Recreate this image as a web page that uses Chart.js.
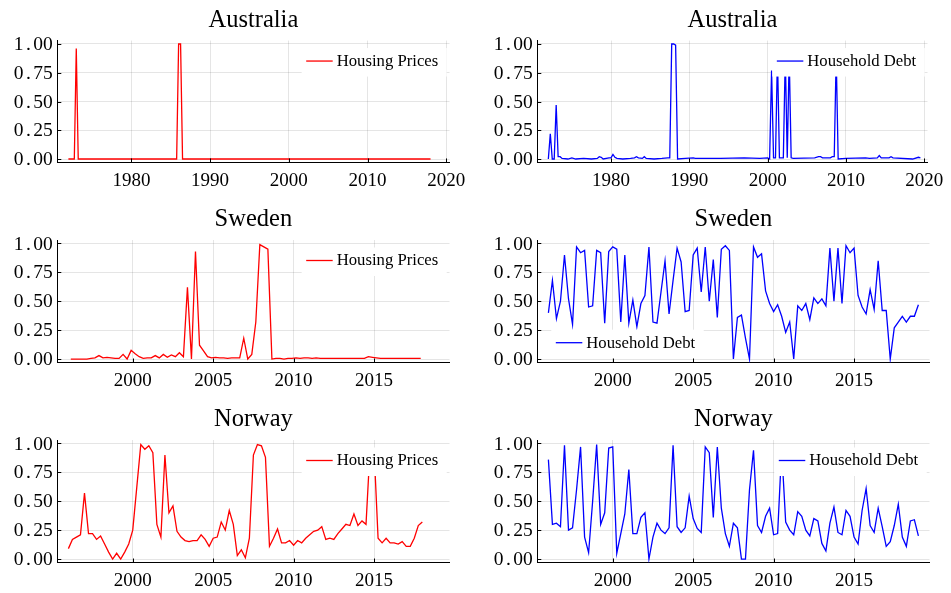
<!DOCTYPE html>
<html>
<head>
<meta charset="utf-8">
<title>Housing prices and household debt</title>
<script src="https://cdn.jsdelivr.net/npm/chart.js@4.4.1/dist/chart.umd.min.js"></script>
<style>
  html, body { margin: 0; padding: 0; background: #fff; overflow: hidden; }
  #wrap { position: relative; width: 951px; height: 593px; }
  #wrap canvas { position: absolute; }
</style>
</head>
<body>
<div id="wrap">
  <canvas id="auHousing" width="475" height="200" style="left:0;top:0"></canvas>
  <canvas id="auDebt" width="476" height="200" style="left:475px;top:0"></canvas>
  <canvas id="seHousing" width="475" height="200" style="left:0;top:200px"></canvas>
  <canvas id="seDebt" width="476" height="200" style="left:475px;top:200px"></canvas>
  <canvas id="noHousing" width="475" height="193" style="left:0;top:400px"></canvas>
  <canvas id="noDebt" width="476" height="193" style="left:475px;top:400px"></canvas>
</div>
<script>
/* values */

const yTicks = [0, 0.25, 0.5, 0.75, 1];
const xTicksLong = [1980, 1990, 2000, 2010, 2020];
const xTicksShort = [2000, 2005, 2010, 2015];

// Australia, flat stretches given only by their end quarters
const auHousingYears = [1972, 1972.75, 1973, 1973.25, 1985.75, 1986, 1986.25, 1986.5, 2018];
const auHousingValues = [0, 0, 0.96, 0, 0, 1, 1, 0, 0];

const auDebtYears = [
  1972, 1972.25, 1972.5, 1972.75, 1973, 1973.25, 1973.5, 1973.75, 1974.5, 1975,
  1975.5, 1976.5, 1977.5, 1978.25, 1978.5, 1978.75, 1979, 1979.75, 1980, 1980.25,
  1980.5, 1980.75, 1981.5, 1982.5, 1983, 1983.25, 1983.5, 1984, 1984.25, 1984.5,
  1985.5, 1986.5, 1987.25, 1987.5, 1987.75, 1988, 1988.25, 1988.5, 1989.5, 1990.5,
  1990.75, 1994, 1997, 1999, 2000, 2000.25, 2000.5, 2000.75, 2001, 2001.25,
  2001.5, 2001.75, 2002, 2002.25, 2002.5, 2002.75, 2003, 2003.25, 2006, 2006.5,
  2006.75, 2007, 2008, 2008.25, 2008.5, 2008.75, 2009, 2010, 2012.5, 2013,
  2014, 2014.25, 2014.5, 2015.5, 2015.75, 2016, 2018.5, 2019.25, 2019.5
];
// the spikes under the legend box are hidden there, 0.9 is a guess
const auDebtValues = [
  0, 0.22, 0, 0, 0.47, 0.02, 0.02, 0.005, 0, 0.01,
  0, 0.005, 0, 0.005, 0.02, 0.015, 0, 0.01, 0.01, 0.04,
  0.015, 0.005, 0, 0.005, 0.01, 0.02, 0.01, 0.005, 0.02, 0.005,
  0, 0.005, 0.01, 0.01, 1, 1, 0.99, 0, 0.005, 0.01,
  0.005, 0.005, 0.01, 0.005, 0.01, 0, 0.77, 0.01, 0.01, 0.9,
  0.01, 0.01, 0.01, 0.9, 0.01, 0.9, 0.01, 0.005, 0.01, 0.02,
  0.02, 0.01, 0.01, 0.02, 0.02, 0.9, 0, 0.005, 0.01, 0.005,
  0.01, 0.03, 0.01, 0.01, 0.02, 0.01, 0, 0.015, 0.01
];

// Sweden and Norway, one value per quarter
const seHousingStart = 1996.15;
const seHousing = [
  0, 0, 0, 0, 0, 0.005, 0.01, 0.03, 0.01, 0.015,
  0.01, 0.005, 0.005, 0.04, 0, 0.075, 0.045, 0.02, 0.005, 0.01,
  0.01, 0.03, 0.01, 0.04, 0.015, 0.035, 0.02, 0.055, 0.02, 0.62,
  0, 0.93, 0.12, 0.07, 0.02, 0.01, 0.015, 0.01, 0.01, 0.005,
  0.01, 0.01, 0.01, 0.18, 0, 0.04, 0.32, 0.99, 0.97, 0.95,
  0, 0.005, 0.005, 0, 0.005, 0.005, 0.01, 0.005, 0.01, 0.01,
  0.005, 0.01, 0.005, 0.005, 0.005, 0.005, 0.005, 0.005, 0.005, 0.005,
  0.005, 0.005, 0.005, 0.005, 0.02, 0.015, 0.01, 0.005, 0.005, 0.005,
  0.005, 0.005, 0.005, 0.005, 0.005, 0.005, 0.005, 0.005
];

const seDebtStart = 1996;
const seDebt = [
  0.40, 0.68, 0.35, 0.50, 0.90, 0.52, 0.30, 0.97, 0.92, 0.94,
  0.45, 0.46, 0.94, 0.92, 0.31, 0.93, 0.97, 0.95, 0.32, 0.90,
  0.31, 0.51, 0.28, 0.48, 0.55, 0.97, 0.32, 0.31, 0.58, 0.85,
  0.39, 0.68, 0.96, 0.84, 0.41, 0.42, 0.90, 0.96, 0.58, 0.97,
  0.50, 0.86, 0.36, 0.95, 0.98, 0.94, 0.00, 0.36, 0.38, 0.18,
  0.00, 0.97, 0.88, 0.91, 0.59, 0.48, 0.41, 0.47, 0.37, 0.23,
  0.32, 0.00, 0.46, 0.42, 0.48, 0.34, 0.53, 0.48, 0.52, 0.46,
  0.96, 0.50, 0.96, 0.48, 0.98, 0.92, 0.96, 0.55, 0.45, 0.39,
  0.60, 0.43, 0.85, 0.42, 0.42, 0.00, 0.27, 0.32, 0.37, 0.32,
  0.37, 0.37, 0.47
];

const noHousingStart = 1996;
const noHousing = [
  0.09, 0.17, 0.19, 0.21, 0.57, 0.22, 0.22, 0.17, 0.20, 0.13,
  0.06, 0.00, 0.05, 0.00, 0.06, 0.13, 0.25, 0.62, 0.99, 0.95,
  0.98, 0.92, 0.30, 0.19, 0.90, 0.40, 0.46, 0.24, 0.19, 0.16,
  0.15, 0.16, 0.16, 0.21, 0.17, 0.11, 0.18, 0.19, 0.32, 0.25,
  0.42, 0.30, 0.03, 0.08, 0.01, 0.18, 0.90, 0.99, 0.98, 0.88,
  0.11, 0.18, 0.26, 0.14, 0.14, 0.16, 0.12, 0.16, 0.14, 0.18,
  0.21, 0.24, 0.25, 0.28, 0.17, 0.18, 0.17, 0.22, 0.26, 0.30,
  0.29, 0.39, 0.29, 0.33, 0.30, 0.95, 0.95, 0.18, 0.14, 0.18,
  0.14, 0.14, 0.13, 0.15, 0.11, 0.11, 0.18, 0.29, 0.32
];

const noDebtStart = 1996;
const noDebt = [
  0.86, 0.30, 0.31, 0.28, 0.985, 0.25, 0.27, 0.60, 0.97, 0.19,
  0.055, 0.50, 0.99, 0.30, 0.40, 0.96, 0.97, 0.05, 0.22, 0.39,
  0.775, 0.22, 0.22, 0.36, 0.40, 0.00, 0.19, 0.31, 0.25, 0.22,
  0.27, 0.985, 0.28, 0.23, 0.27, 0.545, 0.35, 0.265, 0.23, 0.97,
  0.92, 0.36, 0.97, 0.44, 0.22, 0.11, 0.31, 0.27, 0.00, 0.00,
  0.60, 0.94, 0.29, 0.23, 0.37, 0.44, 0.21, 0.22, 0.95, 0.32,
  0.25, 0.21, 0.41, 0.37, 0.25, 0.20, 0.35, 0.33, 0.135, 0.07,
  0.31, 0.45, 0.23, 0.21, 0.42, 0.37, 0.19, 0.13, 0.42, 0.61,
  0.29, 0.23, 0.44, 0.28, 0.11, 0.15, 0.29, 0.475, 0.19, 0.11,
  0.33, 0.34, 0.20
];

const FONT = "'Liberation Serif', 'Times New Roman', serif";
Chart.defaults.font.family = FONT;
Chart.defaults.color = '#000';

function quarterly(start, values) {
  return values.map((v, i) => ({ x: start + 0.25 * i, y: v }));
}
function paired(years, values) {
  return years.map((x, i) => ({ x: x, y: values[i] }));
}

// title, legend box (over the lines, like the original), y labels and inward tick marks
const panelDecor = {
  id: 'panelDecor',
  afterDatasetsDraw(chart, args, opts) {
    const ctx = chart.ctx, a = chart.chartArea;
    ctx.save();
    ctx.font = '16.7px ' + FONT;
    const tw = ctx.measureText(opts.label).width;
    const w = 4.5 + 26.5 + 4 + tw + 8.5;
    let bx, cy;
    if (opts.legendPos === 'bl') {
      bx = a.left + 14;
      cy = a.bottom - 19.8;
    } else {
      bx = a.right - 2.8 - w;
      cy = a.top + 20.5;
    }
    ctx.fillStyle = '#fff';
    ctx.fillRect(bx, cy - 13, w, 28.5);
    ctx.strokeStyle = opts.color;
    ctx.lineWidth = 1.3;
    ctx.beginPath();
    ctx.moveTo(bx + 4.5, cy);
    ctx.lineTo(bx + 31, cy);
    ctx.stroke();
    ctx.fillStyle = '#000';
    ctx.textAlign = 'left';
    ctx.textBaseline = 'middle';
    ctx.fillText(opts.label, bx + 35, cy + 0.5);
    ctx.restore();
  },
  afterDraw(chart, args, opts) {
    const ctx = chart.ctx, a = chart.chartArea;
    const xs = chart.scales.x, ys = chart.scales.y;
    ctx.save();
    ctx.strokeStyle = '#000';
    ctx.lineWidth = 1;
    ctx.beginPath();
    ys.ticks.forEach(t => {
      const py = Math.round(ys.getPixelForValue(t.value)) + 0.5;
      ctx.moveTo(a.left, py);
      ctx.lineTo(a.left + 4, py);
    });
    xs.ticks.forEach(t => {
      const px = Math.round(xs.getPixelForValue(t.value)) + 0.5;
      ctx.moveTo(px, a.bottom);
      ctx.lineTo(px, a.bottom - 4);
    });
    ctx.stroke();

    // y labels: the decimal point takes a full digit slot, as in the original
    ctx.fillStyle = '#000';
    ctx.font = '19.5px ' + FONT;
    ctx.textBaseline = 'middle';
    const dw = ctx.measureText('0').width;
    const xr = a.left - 4.6;
    ys.ticks.forEach(t => {
      const py = ys.getPixelForValue(t.value) + 1;
      const parts = Number(t.value).toFixed(2).split('.');
      ctx.textAlign = 'right';
      ctx.fillText(parts[1], xr, py);
      ctx.textAlign = 'center';
      ctx.fillText('.', xr - 2.5 * dw, py);
      ctx.textAlign = 'right';
      ctx.fillText(parts[0], xr - 3 * dw, py);
    });

    ctx.font = '24.5px ' + FONT;
    ctx.textAlign = 'center';
    ctx.textBaseline = 'alphabetic';
    ctx.fillText(opts.title, (a.left + a.right) / 2, a.top - 13.6);
    ctx.restore();
  }
};

const sides = {
  left: { yw: 57.3, padRight: 25.5 },
  right: { yw: 62.3, padRight: 21.5 }
};
const rows = [
  { padTop: 40.55, xh: 37.55 },
  { padTop: 40, xh: 37.5 },
  { padTop: 40, xh: 30.5 }
];

function makePanel(id, cfg) {
  const side = sides[cfg.side], row = rows[cfg.row];
  new Chart(document.getElementById(id), {
    type: 'line',
    data: {
      datasets: [{
        label: cfg.label,
        data: cfg.data,
        borderColor: cfg.color,
        borderWidth: 1.3,
        pointRadius: 0,
        tension: 0,
        fill: false
      }]
    },
    options: {
      responsive: false,
      animation: false,
      events: [],
      layout: { padding: { top: row.padTop, right: side.padRight, left: 0, bottom: 0 } },
      scales: {
        x: {
          type: 'linear',
          min: cfg.xMin,
          max: cfg.xMax,
          afterBuildTicks: s => { s.ticks = cfg.xTicks.map(v => ({ value: v })); },
          afterFit: s => { s.height = row.xh; },
          ticks: {
            autoSkip: false,
            maxRotation: 0,
            padding: 7.5,
            font: { size: 19 },
            color: '#000',
            callback: v => String(v)
          },
          grid: { color: 'rgba(0,0,0,0.1)', lineWidth: 1, drawTicks: false },
          border: { display: true, color: '#000', width: 1 }
        },
        y: {
          min: -0.03,
          max: 1.03,
          afterBuildTicks: s => { s.ticks = yTicks.map(v => ({ value: v })); },
          afterFit: s => { s.width = side.yw; },
          ticks: { display: false },
          grid: { color: 'rgba(0,0,0,0.1)', lineWidth: 1, drawTicks: false },
          border: { display: true, color: '#000', width: 1 }
        }
      },
      plugins: {
        legend: { display: false },
        tooltip: { enabled: false },
        title: { display: false },
        panelDecor: {
          title: cfg.title,
          label: cfg.label,
          color: cfg.color,
          legendPos: cfg.legendPos
        }
      }
    },
    plugins: [panelDecor]
  });
}

const RED = '#ff0000', BLUE = '#0000ff';
const longX = { xMin: 1970.59, xMax: 2020.41, xTicks: xTicksLong };
const shortX = { xMin: 1995.31, xMax: 2019.69, xTicks: xTicksShort };

makePanel('auHousing', Object.assign({ side: 'left', row: 0, title: 'Australia', label: 'Housing Prices',
  color: RED, legendPos: 'tr', data: paired(auHousingYears, auHousingValues) }, longX));
makePanel('auDebt', Object.assign({ side: 'right', row: 0, title: 'Australia', label: 'Household Debt',
  color: BLUE, legendPos: 'tr', data: paired(auDebtYears, auDebtValues) }, longX));
makePanel('seHousing', Object.assign({ side: 'left', row: 1, title: 'Sweden', label: 'Housing Prices',
  color: RED, legendPos: 'tr', data: quarterly(seHousingStart, seHousing) }, shortX));
makePanel('seDebt', Object.assign({ side: 'right', row: 1, title: 'Sweden', label: 'Household Debt',
  color: BLUE, legendPos: 'bl', data: quarterly(seDebtStart, seDebt) }, shortX));
makePanel('noHousing', Object.assign({ side: 'left', row: 2, title: 'Norway', label: 'Housing Prices',
  color: RED, legendPos: 'tr', data: quarterly(noHousingStart, noHousing) }, shortX));
makePanel('noDebt', Object.assign({ side: 'right', row: 2, title: 'Norway', label: 'Household Debt',
  color: BLUE, legendPos: 'tr', data: quarterly(noDebtStart, noDebt) }, shortX));
</script>
</body>
</html>
